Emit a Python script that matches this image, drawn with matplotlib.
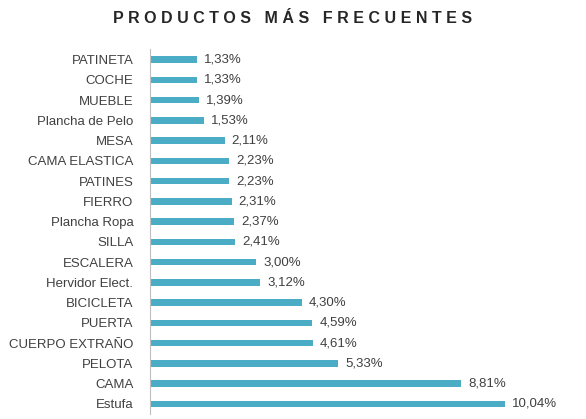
import matplotlib.pyplot as plt

productos = ["PATINETA", "COCHE", "MUEBLE", "Plancha de Pelo", "MESA", "CAMA ELASTICA",
             "PATINES", "FIERRO", "Plancha Ropa", "SILLA", "ESCALERA", "Hervidor Elect.",
             "BICICLETA", "PUERTA", "CUERPO EXTRAÑO", "PELOTA", "CAMA", "Estufa"]
porcentajes = [1.33, 1.33, 1.39, 1.53, 2.11, 2.23, 2.23, 2.31, 2.37, 2.41, 3.00, 3.12,
               4.30, 4.59, 4.61, 5.33, 8.81, 10.04]

plt.rcParams['font.family'] = ['Liberation Sans', 'DejaVu Sans']
plt.rcParams['hatch.color'] = '#d8eef4'
plt.rcParams['hatch.linewidth'] = 0.4

fig = plt.figure(figsize=(5.86, 4.19), dpi=100)
ax = fig.add_axes([0.256, 0.012, 0.724, 0.87])

y = list(range(len(productos)))
ax.barh(y, porcentajes, height=0.32, color='#4bacc6', hatch='||||||', edgecolor='#4bacc6', linewidth=0)
for yi, v in zip(y, porcentajes):
    ax.text(v + 0.2, yi, f"{v:.2f}%".replace('.', ','), va='center', fontsize=9.5, color='#404040')

ax.set_yticks(y)
ax.set_yticklabels(productos, fontsize=9.5, color='#404040')
ax.set_ylim(len(productos) - 0.5, -0.5)
ax.set_xlim(0, 12)
ax.set_xticks([])
ax.tick_params(axis='y', length=0, pad=12)
for s in ['top', 'right', 'bottom']:
    ax.spines[s].set_visible(False)
ax.spines['left'].set_color('#bfbfbf')

fig.text(0.5, 0.945, "P R O D U C T O S   M Á S   F R E C U E N T E S", ha='center', fontsize=11.5,
         fontweight='bold', color='#262626')

fig.savefig('out.png')
